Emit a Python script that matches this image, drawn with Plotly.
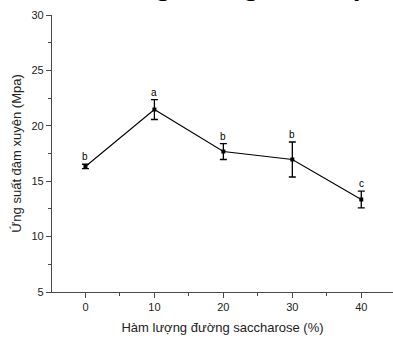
import plotly.graph_objects as go

# Sucrose content (%) vs. puncture stress (MPa)
sugar_pct = [0, 10, 20, 30, 40]
stress_mpa = [16.33, 21.47, 17.68, 16.96, 13.35]
stress_err = [0.2, 0.9, 0.72, 1.58, 0.75]
group_letters = ["b", "a", "b", "b", "c"]

x_ticks = [0, 10, 20, 30, 40]
y_ticks = [5, 10, 15, 20, 25, 30]

# Descender glyphs of the heading line running above the figure
heading_glyphs = ["g", "g", "y"]
heading_glyph_x = [163, 251, 361]

axis_color = "#4a4a4a"
font_family = "Liberation Sans, Arial, sans-serif"

fig = go.Figure()
fig.add_trace(go.Scatter(
    x=sugar_pct, y=stress_mpa,
    mode="lines+markers",
    line=dict(color="black", width=1.1),
    marker=dict(symbol="square", size=4, color="black"),
    error_y=dict(type="data", array=stress_err, visible=True,
                 color="black", thickness=1.3, width=3.5),
    showlegend=False,
))

for x, y, e, t in zip(sugar_pct, stress_mpa, stress_err, group_letters):
    fig.add_annotation(x=x, y=y + e, text=t, showarrow=False,
                       yanchor="bottom", yshift=0,
                       font=dict(family=font_family, size=10, color="black"))

W, H, ML, MT, MB = 393, 338, 52, 15, 46
plot_w, plot_h = W - ML, H - MT - MB
for g, px in zip(heading_glyphs, heading_glyph_x):
    fig.add_annotation(xref="paper", yref="paper",
                       x=(px - ML) / plot_w, y=1 + (MT - 3) / plot_h,
                       text=g, showarrow=False, xanchor="center", yanchor="bottom",
                       font=dict(family="Liberation Serif, Times New Roman, serif",
                                 size=28, color="black"))

fig.update_layout(
    width=W, height=H,
    margin=dict(l=ML, r=0, t=MT, b=MB),
    paper_bgcolor="white", plot_bgcolor="white",
    font=dict(family=font_family, color="#222"),
)
fig.update_xaxes(
    range=[-4.85, 44.6], tickvals=x_ticks, ticks="outside", ticklen=5,
    tickcolor=axis_color, tickwidth=1, showline=True, linecolor=axis_color,
    linewidth=1.2, showgrid=False, zeroline=False,
    tickfont=dict(size=11, color="#222"),
    minor=dict(tickvals=[-5, 5, 15, 25, 35], ticks="outside", ticklen=3,
               tickcolor=axis_color, showgrid=False),
    title=dict(text="Hàm lượng đường saccharose (%)", font=dict(size=13, color="#222"),
               standoff=10),
)
fig.update_yaxes(
    range=[5, 30], tickvals=y_ticks, ticks="outside", ticklen=5,
    tickcolor=axis_color, tickwidth=1, showline=True, linecolor=axis_color,
    linewidth=1.2, showgrid=False, zeroline=False,
    tickfont=dict(size=11, color="#222"),
    minor=dict(tickvals=[7.5, 12.5, 17.5, 22.5, 27.5], ticks="outside", ticklen=3,
               tickcolor=axis_color, showgrid=False),
    title=dict(text="Ứng suất đâm xuyên (Mpa)", font=dict(size=13, color="#222"),
               standoff=6),
)

fig.write_html("out.html")
